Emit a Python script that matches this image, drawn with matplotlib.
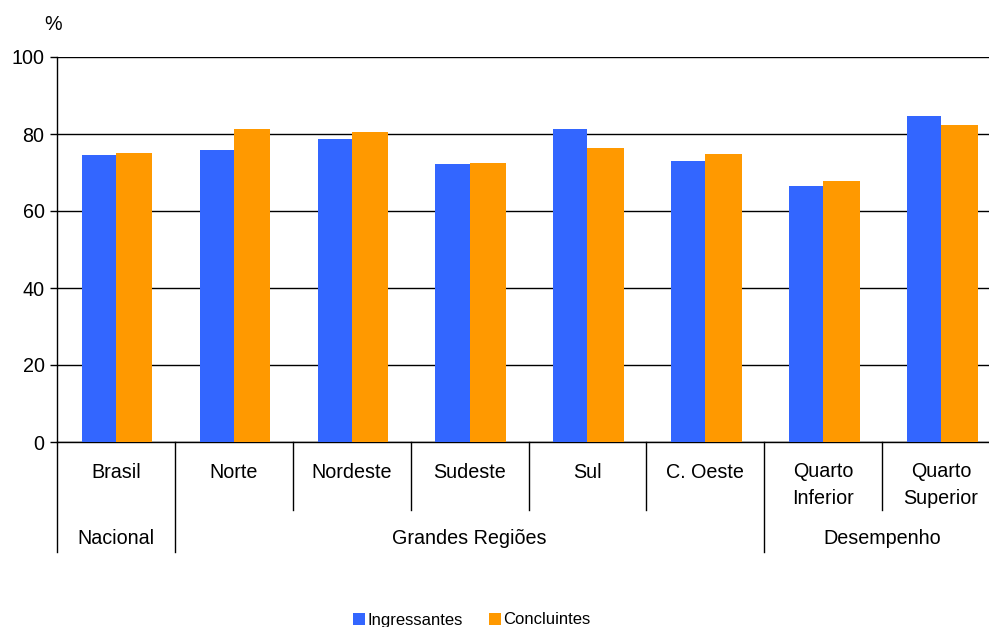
import matplotlib
matplotlib.use("Agg")
import matplotlib.pyplot as plt
import numpy as np

categories = ["Brasil", "Norte", "Nordeste", "Sudeste", "Sul", "C. Oeste", "Quarto\nInferior", "Quarto\nSuperior"]
ingressantes = [74.5, 75.8, 78.8, 72.3, 81.4, 73.0, 66.6, 84.7]
concluintes = [75.1, 81.2, 80.4, 72.5, 76.4, 74.9, 67.7, 82.4]
groups = [("Nacional", 0, 0), ("Grandes Regiões", 1, 5), ("Desempenho", 6, 7)]
yticks = [0, 20, 40, 60, 80, 100]

plt.rcParams['font.family'] = ['Liberation Sans', 'DejaVu Sans']

W, H = 989, 627
fig = plt.figure(figsize=(W / 100, H / 100), dpi=100)
left, right, top, bottom = 57, 1000, 57, 442
ax = fig.add_axes([left / W, (H - bottom) / H, (right - left) / W, (bottom - top) / H])

x = np.arange(len(categories))
bw = 0.29
ax.bar(x - bw / 2, ingressantes, bw, color="#3366FF", label="Ingressantes", zorder=3)
ax.bar(x + bw / 2 + 0.01, concluintes, bw + 0.02, color="#FF9900", label="Concluintes", zorder=3)

ax.set_xlim(-0.5, len(categories) - 0.5)
ax.set_ylim(0, 100)
ax.set_yticks(yticks)
ax.tick_params(axis='y', labelsize=14.2, length=5, width=1, direction='out', pad=4)
ax.set_xticks([])
for s in ["top", "right"]:
    ax.spines[s].set_visible(False)
ax.spines["left"].set_linewidth(1)
ax.spines["bottom"].set_linewidth(1)
ax.yaxis.grid(True, color="black", linewidth=1, zorder=0)
ax.set_axisbelow(True)

ppx = bottom - top
ax.text(-4 / (right - left), 1 + 32 / ppx, "%", transform=ax.transAxes, fontsize=14.2, ha='center', va='center')

tr = ax.get_xaxis_transform()
y_t1 = -30 / ppx
y_t1_end = -68 / ppx
y_t2 = -97 / ppx
y_t2_end = -110 / ppx

for i, c in enumerate(categories):
    yy = y_t1 if "\n" not in c else -43 / ppx
    ax.text(i, yy, c, transform=tr, ha='center', va='center', fontsize=14.2, linespacing=1.55)

group_bounds = set()
for name, a, b in groups:
    group_bounds.add(a - 0.5)
    group_bounds.add(b + 0.5)
    ax.text((a + b) / 2, y_t2, name, transform=tr, ha='center', va='center', fontsize=14.2)

for k in range(len(categories)):
    xb = k - 0.5
    yend = y_t2_end if xb in group_bounds else y_t1_end
    ax.plot([xb, xb], [0, yend], transform=tr, color="black", linewidth=1, clip_on=False)

fig.legend(loc='center', bbox_to_anchor=(472 / W, 1 - 620 / H), ncol=2, frameon=False,
           fontsize=12, handlelength=0.7, handleheight=0.7, handletextpad=0.15, columnspacing=1.6,
           borderaxespad=0)

fig.savefig("out.png", dpi=100)
